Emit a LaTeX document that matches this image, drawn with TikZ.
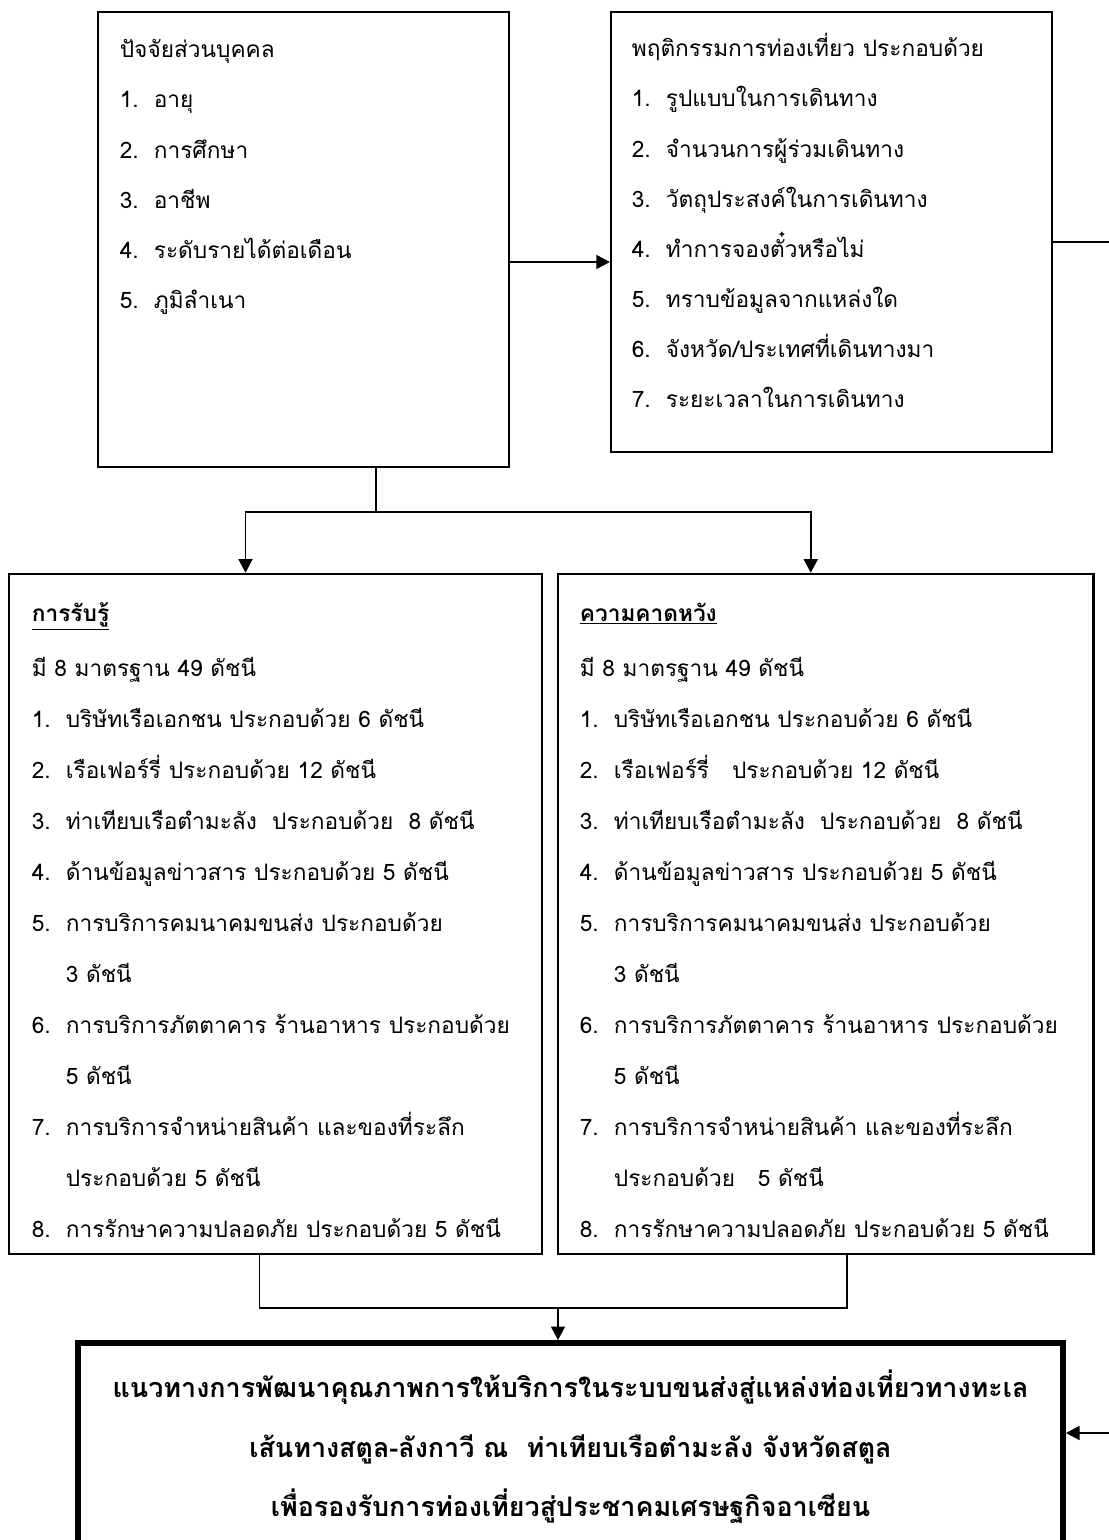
\documentclass[tikz,border=0pt]{standalone}
\usepackage{fontspec}
\setmainfont[Script=Thai]{Loma}
\usetikzlibrary{arrows.meta}

\tikzset{
  box/.style={draw, rectangle, inner sep=0pt},
  txt/.style={anchor=base west, inner sep=0pt, font=\fontsize{12.9}{15}\selectfont},
  headtxt/.style={anchor=base, inner sep=0pt, font=\fontsize{15.3}{18}\selectfont\bfseries},
  conn/.style={line width=0.85pt},
  arr/.style={conn, -{Triangle[length=0.27cm,width=0.28cm]}},
}
\newcommand{\itm}[1]{\makebox[0.68cm][l]{#1}}

\begin{document}
\begin{tikzpicture}
\useasboundingbox (0,0) rectangle (22.16,-30.8);
% boxes
\node[box, line width=1.3pt, minimum width=8.21cm, minimum height=9.1cm] (pers) at (6.07,-4.79) {};
\node[box, line width=1pt, minimum width=8.83cm, minimum height=8.8cm] (beh) at (16.63,-4.64) {};
\node[box, line width=1.5pt, minimum width=10.66cm, minimum height=13.6cm] (perc) at (5.51,-18.28) {};
\node[box, line width=1.5pt, minimum width=10.71cm, minimum height=13.6cm] (expc) at (16.515,-18.28) {};
\node[box, line width=3.4pt, minimum width=19.7cm, minimum height=4.44cm] (goal) at (11.41,-29.08) {};
% text of the top boxes
\foreach \line [count=\i from 0] in {ปัจจัยส่วนบุคคล, \itm{1.}อายุ, \itm{2.}การศึกษา,
    \itm{3.}อาชีพ, \itm{4.}ระดับรายได้ต่อเดือน, \itm{5.}ภูมิลำเนา}
  \node[txt] (pers-\i) at (2.39,-1.16-\i) {\line};
\foreach \line [count=\i from 0] in {พฤติกรรมการท่องเที่ยว ประกอบด้วย, \itm{1.}รูปแบบในการเดินทาง,
    \itm{2.}จำนวนการผู้ร่วมเดินทาง, \itm{3.}วัตถุประสงค์ในการเดินทาง, \itm{4.}ทำการจองตั๋วหรือไม่,
    \itm{5.}ทราบข้อมูลจากแหล่งใด, \itm{6.}จังหวัด/ประเทศที่เดินทางมา, \itm{7.}ระยะเวลาในการเดินทาง}
  \node[txt] (beh-\i) at (12.63,-1.14-\i) {\line};
% perception
\node[txt] (perc-t) at (0.63,-12.42) {\underline{\textbf{การรับรู้}}};
\node[txt] (perc-s) at (0.63,-13.52) {มี 8 มาตรฐาน 49 ดัชนี};
\foreach \line [count=\i from 0] in {\itm{1.}บริษัทเรือเอกชน ประกอบด้วย 6 ดัชนี,
    \itm{2.}เรือเฟอร์รี่ ประกอบด้วย 12 ดัชนี,
    \itm{3.}ท่าเทียบเรือตำมะลัง\ \ ประกอบด้วย\ \ 8 ดัชนี,
    \itm{4.}ด้านข้อมูลข่าวสาร ประกอบด้วย 5 ดัชนี,
    \itm{5.}การบริการคมนาคมขนส่ง ประกอบด้วย, \itm{}3 ดัชนี,
    \itm{6.}การบริการภัตตาคาร ร้านอาหาร ประกอบด้วย, \itm{}5 ดัชนี,
    \itm{7.}การบริการจำหน่ายสินค้า และของที่ระลึก, \itm{}ประกอบด้วย 5 ดัชนี,
    \itm{8.}การรักษาความปลอดภัย ประกอบด้วย 5 ดัชนี}
  \node[txt] (perc-\i) at (0.63,-14.54-1.02*\i) {\line};
% expectation
\node[txt] (expc-t) at (11.59,-12.42) {\underline{\textbf{ความคาดหวัง}}};
\node[txt] (expc-s) at (11.59,-13.52) {มี 8 มาตรฐาน 49 ดัชนี};
\foreach \line [count=\i from 0] in {\itm{1.}บริษัทเรือเอกชน ประกอบด้วย 6 ดัชนี,
    \itm{2.}เรือเฟอร์รี่\ \ \ ประกอบด้วย 12 ดัชนี,
    \itm{3.}ท่าเทียบเรือตำมะลัง\ \ ประกอบด้วย\ \ 8 ดัชนี,
    \itm{4.}ด้านข้อมูลข่าวสาร ประกอบด้วย 5 ดัชนี,
    \itm{5.}การบริการคมนาคมขนส่ง ประกอบด้วย, \itm{}3 ดัชนี,
    \itm{6.}การบริการภัตตาคาร ร้านอาหาร ประกอบด้วย, \itm{}5 ดัชนี,
    \itm{7.}การบริการจำหน่ายสินค้า และของที่ระลึก, \itm{}ประกอบด้วย\ \ \ 5 ดัชนี,
    \itm{8.}การรักษาความปลอดภัย ประกอบด้วย 5 ดัชนี}
  \node[txt] (expc-\i) at (11.59,-14.54-1.02*\i) {\line};
% goal
\node[headtxt] (goal-1) at (11.41,-27.94) {แนวทางการพัฒนาคุณภาพการให้บริการในระบบขนส่งสู่แหล่งท่องเที่ยวทางทะเล};
\node[headtxt] (goal-2) at (11.41,-29.14) {เส้นทางสตูล-ลังกาวี ณ\ \ ท่าเทียบเรือตำมะลัง จังหวัดสตูล};
\node[headtxt] (goal-3) at (11.41,-30.32) {เพื่อรองรับการท่องเที่ยวสู่ประชาคมเศรษฐกิจอาเซียน};
% connectors
\coordinate (split) at (7.52,-10.24);
\coordinate (merge) at (11.16,-26.16);
\coordinate (edge_top) at (22.5,-4.84);
\coordinate (edge_bot) at (22.5,-28.66);
\draw[arr] ([yshift=-0.45cm]pers.east) -- ([yshift=-0.45cm]pers.east -| beh.west);
\draw[conn] (pers.south -| split) -- (split);
\draw[arr] (split) -| ([xshift=-0.6cm]perc.north);
\draw[arr] (split) -| ([xshift=-0.3cm]expc.north);
\draw[conn] ([xshift=-0.32cm]perc.south) |- ([xshift=0.42cm]expc.south |- merge) -- ([xshift=0.42cm]expc.south);
\draw[arr] (merge) -- (merge |- goal.north);
\draw[arr] (beh.east |- edge_top) -- (edge_top) -- (edge_bot) -- (edge_bot -| goal.east);
\end{tikzpicture}
\end{document}
